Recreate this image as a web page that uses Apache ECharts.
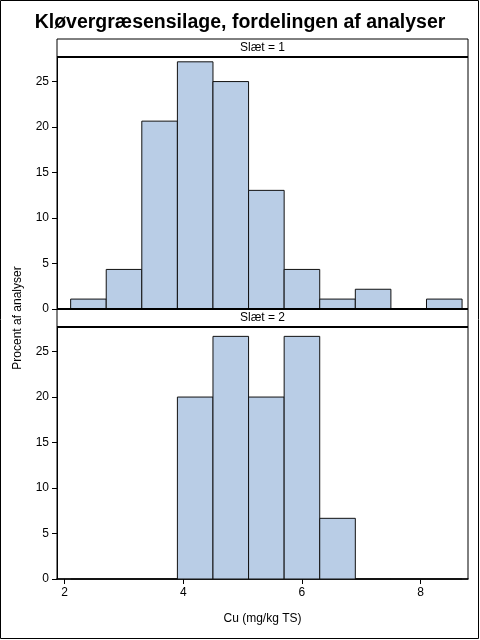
<!DOCTYPE html>
<html>
<head>
<meta charset="utf-8">
<script src="https://cdn.jsdelivr.net/npm/echarts@6/dist/echarts.min.js"></script>
<style>
html, body { margin: 0; padding: 0; background: #fff; }
#chart { width: 480px; height: 640px; }
</style>
</head>
<body>
<div id="chart"></div>
<script>
// bin edges (Cu, mg/kg TS), width 0.6
var binEdges = [2.1, 2.7, 3.3, 3.9, 4.5, 5.1, 5.7, 6.3, 6.9, 7.5, 8.1, 8.7];
// percent of analyses per bin
var slaet1 = [1.09, 4.35, 20.65, 27.17, 25.0, 13.04, 4.35, 1.09, 2.17, 0, 1.09];
var slaet2 = [0, 0, 0, 20.0, 26.67, 20.0, 26.67, 6.67, 0, 0, 0];
var panelLabels = ['Slæt = 1', 'Slæt = 2'];
var xTicks = [2, 4, 6, 8];
var yTicks = [0, 5, 10, 15, 20, 25];

var font = '"Liberation Sans", Arial, sans-serif';
var fillColor = '#b9cde6';

// lav histogram-data: [start, slut, procent]
function bins(values) {
	var out = [];
	values.forEach(function (v, i) {
		out.push([binEdges[i], binEdges[i + 1], v]);
	});
	return out;
}

function renderBar(params, api) {
	var p0 = api.coord([api.value(0), 0]);
	var p1 = api.coord([api.value(1), api.value(2)]);
	return {
		type: 'rect',
		shape: { x: p0[0], y: p1[1], width: p1[0] - p0[0], height: p0[1] - p1[1] },
		style: { fill: fillColor, stroke: '#111', lineWidth: 1 }
	};
}

function xAxisCfg(idx, showAxis) {
	return {
		type: 'value',
		gridIndex: idx,
		min: 1.87,
		max: 8.8,
		splitLine: { show: false },
		axisLine: { show: showAxis, lineStyle: { color: '#000', width: 1.5 } },
		axisTick: { show: showAxis, length: 5, customValues: xTicks, lineStyle: { color: '#000' } },
		axisLabel: { show: showAxis, customValues: xTicks, color: '#000', fontSize: 12, fontFamily: font, margin: 8 },
		name: showAxis ? 'Cu (mg/kg TS)' : '',
		nameLocation: 'middle',
		nameGap: 34,
		nameTextStyle: { color: '#000', fontSize: 12, fontFamily: font }
	};
}

function yAxisCfg(idx) {
	return {
		type: 'value',
		gridIndex: idx,
		min: 0,
		max: 27.7,
		splitLine: { show: false },
		axisLine: { show: true, lineStyle: { color: '#000', width: 1 } },
		axisTick: { show: true, length: 5, customValues: yTicks, lineStyle: { color: '#000' } },
		axisLabel: { customValues: yTicks, color: '#000', fontSize: 12, fontFamily: font, margin: 8 }
	};
}

var L = 57, W = 411, H = 252;
var tops = [57, 327];

var chart = echarts.init(document.getElementById('chart'), null, { renderer: 'canvas' });

var graphics = [
	{ type: 'rect', shape: { x: 0.5, y: 0.5, width: 478, height: 638 }, style: { fill: 'none', stroke: '#000', lineWidth: 1 }, z: 10 },
	{
		type: 'text', x: 18, y: 318, rotation: Math.PI / 2,
		style: { text: 'Procent af analyser', fill: '#000', font: '12px ' + font, textAlign: 'center', textVerticalAlign: 'middle' }
	}
];
panelLabels.forEach(function (lbl, i) {
	var top = tops[i] - 18;
	graphics.push({
		type: 'rect', shape: { x: L, y: top, width: W, height: 18 },
		style: { fill: '#fff', stroke: '#000', lineWidth: 1 }, z: 5
	});
	graphics.push({
		type: 'text', x: L + W / 2, y: top + 9, z: 6,
		style: { text: lbl, fill: '#000', font: '12px ' + font, textAlign: 'center', textVerticalAlign: 'middle' }
	});
});
// tykke linjer under/over panel-hoveder
[57, 309, 327].forEach(function (y) {
	graphics.push({ type: 'line', shape: { x1: L, y1: y, x2: L + W, y2: y }, style: { stroke: '#000', lineWidth: 2 }, z: 7 });
});

chart.setOption({
	animation: false,
	title: {
		text: 'Kløvergræsensilage, fordelingen af analyser',
		left: 'center',
		top: 8,
		textStyle: { fontSize: 19.5, fontWeight: 'bold', color: '#000', fontFamily: font }
	},
	grid: [
		{ left: L, top: tops[0], width: W, height: H, show: true, borderColor: '#000', borderWidth: 1 },
		{ left: L, top: tops[1], width: W, height: H, show: true, borderColor: '#000', borderWidth: 1 }
	],
	xAxis: [xAxisCfg(0, false), xAxisCfg(1, true)],
	yAxis: [yAxisCfg(0), yAxisCfg(1)],
	series: [
		{ type: 'custom', xAxisIndex: 0, yAxisIndex: 0, renderItem: renderBar, encode: { x: [0, 1], y: 2 }, data: bins(slaet1) },
		{ type: 'custom', xAxisIndex: 1, yAxisIndex: 1, renderItem: renderBar, encode: { x: [0, 1], y: 2 }, data: bins(slaet2) }
	],
	graphic: graphics
});
</script>
</body>
</html>
